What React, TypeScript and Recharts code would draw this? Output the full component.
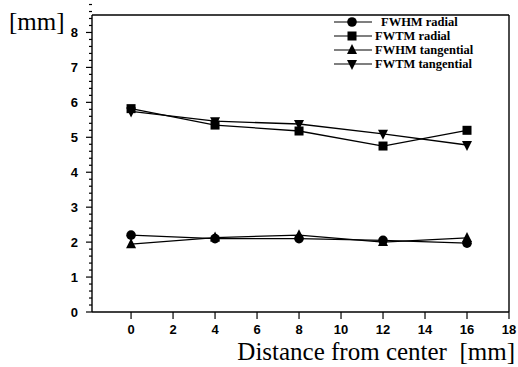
import { LineChart, Line, XAxis, YAxis, ReferenceLine } from "recharts";

const distances = [0, 4, 8, 12, 16];
const fwhmRadial = [2.2, 2.1, 2.1, 2.05, 1.97];
const fwtmRadial = [5.82, 5.35, 5.18, 4.75, 5.2];
const fwhmTangential = [1.94, 2.13, 2.2, 2.0, 2.12];
const fwtmTangential = [5.74, 5.46, 5.38, 5.1, 4.78];

const xTicks = [0, 2, 4, 6, 8, 10, 12, 14, 16, 18];
const yTicks = [0, 1, 2, 3, 4, 5, 6, 7, 8];
// minor ticks every 0.2 between the labelled ones
const yMinorTicks = yTicks
  .flatMap((t) => [t, t + 0.2, t + 0.4, t + 0.6, t + 0.8])
  .map((v) => Math.round(v * 10) / 10);

const chartData = distances.map((d, i) => ({
  x: d,
  fwhmR: fwhmRadial[i],
  fwtmR: fwtmRadial[i],
  fwhmT: fwhmTangential[i],
  fwtmT: fwtmTangential[i],
}));

type Shape = "circle" | "square" | "up" | "down";

function Marker({ cx, cy, shape }: { cx: number; cy: number; shape: Shape }) {
  if (shape === "circle") return <circle cx={cx} cy={cy} r={4.8} fill="#000" />;
  if (shape === "square")
    return <rect x={cx - 4.5} y={cy - 4.5} width={9} height={9} fill="#000" />;
  if (shape === "up")
    return (
      <polygon
        points={`${cx},${cy - 6} ${cx - 5},${cy + 4} ${cx + 5},${cy + 4}`}
        fill="#000"
      />
    );
  return (
    <polygon
      points={`${cx},${cy + 6} ${cx - 5},${cy - 4} ${cx + 5},${cy - 4}`}
      fill="#000"
    />
  );
}

const series: { key: string; name: string; shape: Shape }[] = [
  { key: "fwhmR", name: "FWHM radial", shape: "circle" },
  { key: "fwtmR", name: "FWTM radial", shape: "square" },
  { key: "fwhmT", name: "FWHM tangential", shape: "up" },
  { key: "fwtmT", name: "FWTM tangential", shape: "down" },
];

function YTick({ x, y, payload }: any) {
  const v = payload.value;
  const major = Math.abs(v - Math.round(v)) < 0.01;
  return (
    <g>
      <line x1={x} x2={x - (major ? 6 : 3)} y1={y} y2={y} stroke="#000" strokeWidth={1.2} />
      {major && (
        <text
          x={x - 14}
          y={y + 4.5}
          textAnchor="end"
          fontFamily="Liberation Sans, Arial, sans-serif"
          fontWeight="bold"
          fontSize={13}
          fill="#000"
        >
          {Math.round(v)}
        </text>
      )}
    </g>
  );
}

function XTick({ x, y, payload }: any) {
  return (
    <g>
      <line x1={x} x2={x} y1={y} y2={y + 7} stroke="#000" strokeWidth={1.2} />
      <text
        x={x}
        y={y + 22}
        textAnchor="middle"
        fontFamily="Liberation Sans, Arial, sans-serif"
        fontWeight="bold"
        fontSize={13}
        fill="#000"
      >
        {payload.value}
      </text>
    </g>
  );
}

function LegendBox() {
  return (
    <div
      style={{
        position: "absolute",
        left: 333,
        top: 15,
        fontFamily: "Liberation Serif, serif",
        fontSize: 12.5,
        fontWeight: "bold",
      }}
    >
      {series.map((s, i) => (
        <div key={s.key} style={{ display: "flex", alignItems: "center", height: 14 }}>
          <svg width={40} height={12}>
            <line x1={1} x2={39} y1={6} y2={6} stroke="#000" strokeWidth={1.2} />
            <Marker cx={19} cy={6} shape={s.shape} />
          </svg>
          <span style={{ marginLeft: i === 0 ? 8 : 2, lineHeight: "14px" }}>{s.name}</span>
        </div>
      ))}
    </div>
  );
}

export default function App() {
  return (
    <div style={{ position: "absolute", left: 0, top: 0, width: 518, height: 367, background: "#fff" }}>
      <LineChart
        width={518}
        height={367}
        data={chartData}
        margin={{ top: 15, right: 9, bottom: 25, left: 0 }}
      >
        <XAxis
          dataKey="x"
          type="number"
          domain={[-1.86, 18]}
          ticks={xTicks}
          interval={0}
          tickSize={0}
          tickMargin={0}
          tick={<XTick />}
          height={30}
          axisLine={{ stroke: "#000", strokeWidth: 1.4 }}
          allowDataOverflow
        />
        <YAxis
          type="number"
          domain={[0, 8.5]}
          ticks={yMinorTicks}
          interval={0}
          tickSize={0}
          tickMargin={0}
          tick={<YTick />}
          width={92}
          axisLine={{ stroke: "#000", strokeWidth: 1.4 }}
          allowDataOverflow
        />
        <ReferenceLine y={8.5} stroke="#000" strokeWidth={1.4} />
        <ReferenceLine x={18} stroke="#000" strokeWidth={1.4} />
        {series.map((s) => (
          <Line
            key={s.key}
            dataKey={s.key}
            name={s.name}
            type="linear"
            stroke="#000"
            strokeWidth={1.3}
            isAnimationActive={false}
            dot={(p: any) => <Marker key={`${s.key}-${p.index}`} cx={p.cx} cy={p.cy} shape={s.shape} />}
            activeDot={false}
          />
        ))}
      </LineChart>
      <LegendBox />
      <div
        style={{
          position: "absolute",
          left: 9,
          top: 8,
          fontFamily: "Liberation Serif, serif",
          fontSize: 25,
          lineHeight: "28px",
        }}
      >
        [mm]
      </div>
      <div
        style={{
          position: "absolute",
          right: 3,
          top: 339,
          fontFamily: "Liberation Serif, serif",
          fontSize: 25,
          lineHeight: "25px",
          whiteSpace: "pre",
        }}
      >
        {"Distance from center  [mm]"}
      </div>
    </div>
  );
}
